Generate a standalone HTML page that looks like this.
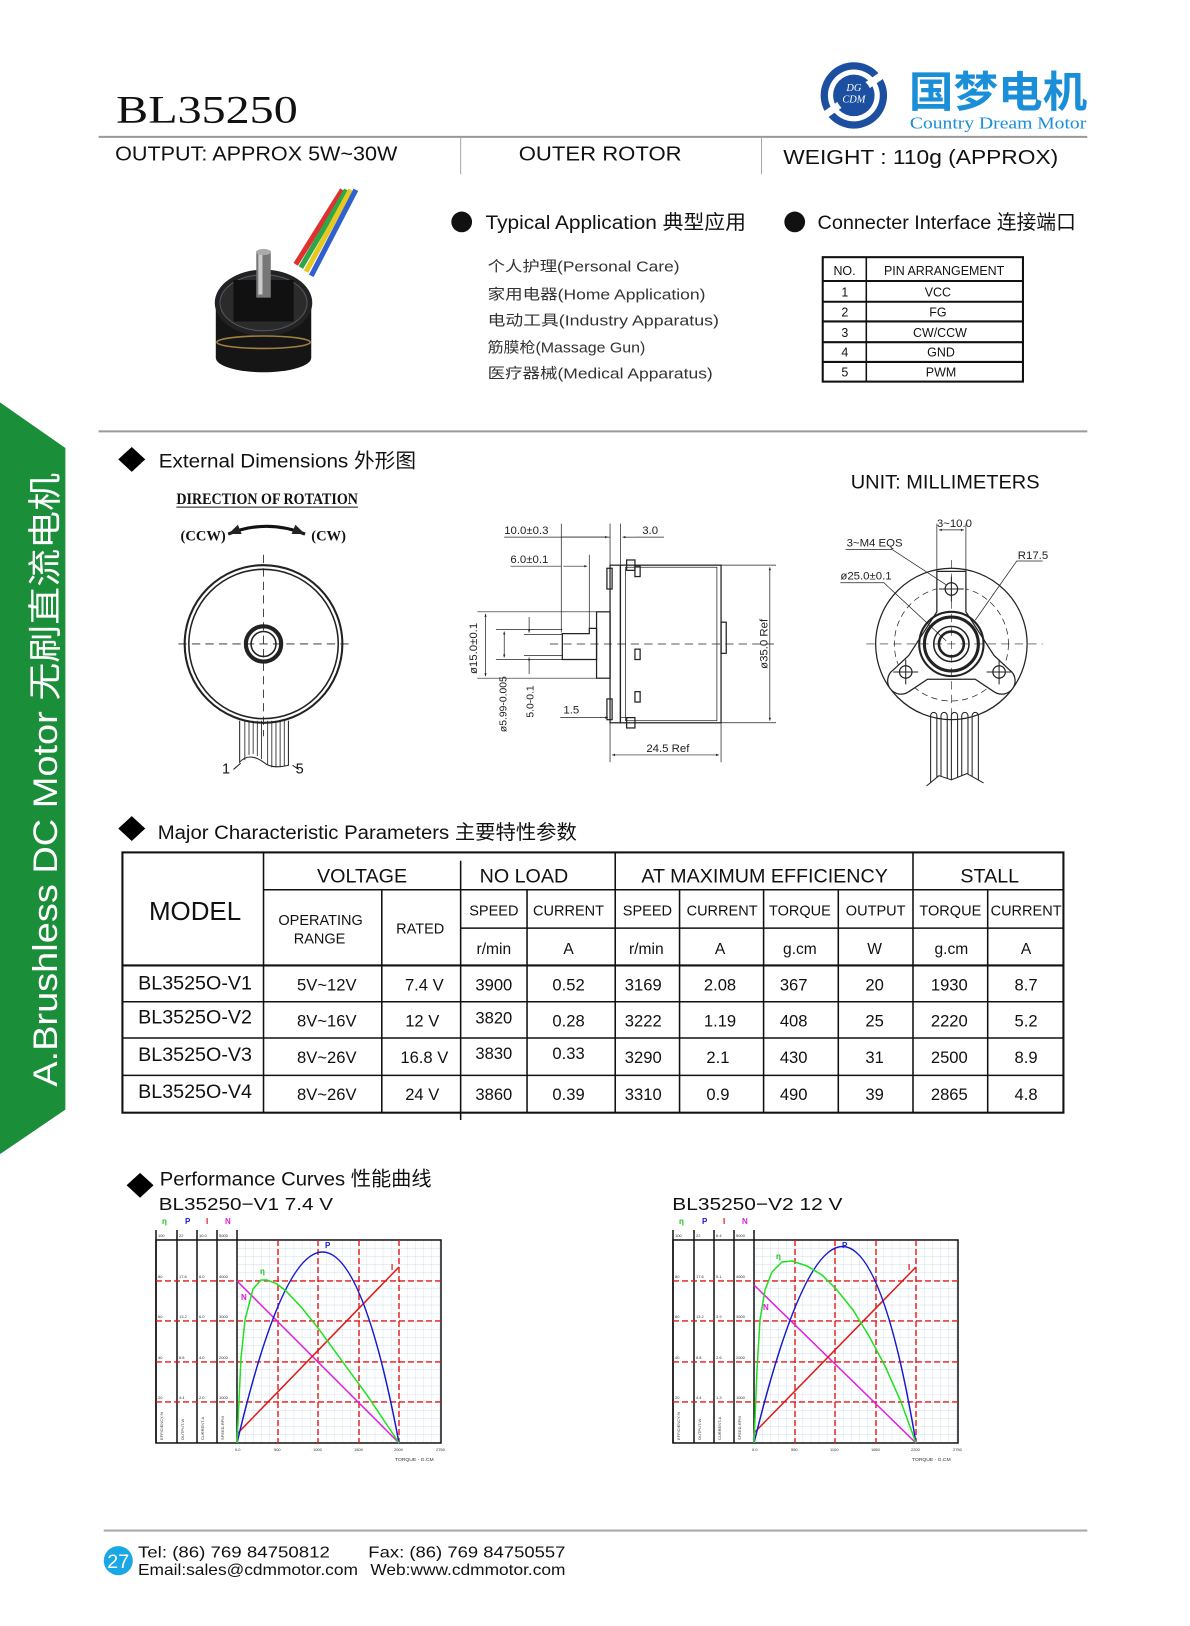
<!DOCTYPE html>
<html><head><meta charset="utf-8">
<style>
html,body{margin:0;padding:0;background:#fff;}
svg{display:block;}
text{font-family:"Liberation Sans","Noto Sans CJK SC",sans-serif;}
.s{font-family:"Liberation Serif","Noto Serif CJK SC",serif;}
.m{font-family:"Liberation Mono","Noto Serif CJK SC",monospace;}
.n{font-family:"Liberation Sans Narrow","Liberation Sans","Noto Sans CJK SC",sans-serif;}
</style></head><body>
<svg width="1190" height="1626" viewBox="0 0 1147 1568" preserveAspectRatio="none" xmlns="http://www.w3.org/2000/svg">
<defs>
<pattern id="mg" width="8.1" height="8.1" patternUnits="userSpaceOnUse" x="237" y="1240">
<path d="M0 0H8.1M0 0V8.1" stroke="#b8d4e0" stroke-width="0.6" fill="none"/>
</pattern>
<marker id="ar" viewBox="0 0 10 10" refX="10" refY="5" markerWidth="6" markerHeight="4" orient="auto-start-reverse"><path d="M0 1L10 5L0 9z" fill="#222"/></marker>
</defs>

<polygon points="0,388 63,432 63,1070 0,1113" fill="#1b8e3a"/>
<text transform="translate(55,1048) rotate(-90)" font-size="33" fill="#fff" textLength="592" lengthAdjust="spacingAndGlyphs">A.Brushless DC Motor  无刷直流电机</text>

<text x="112" y="118" class="s" font-size="38" fill="#111" textLength="175" lengthAdjust="spacingAndGlyphs">BL35250</text>
<g>
<circle cx="823" cy="92" r="32" fill="#1d4fa0"/>
<circle cx="823" cy="92" r="25" fill="#fff"/>
<circle cx="823" cy="92" r="20" fill="#1d4fa0"/>
<rect x="790" y="88" width="66" height="7" fill="#fff" transform="rotate(-35 823 92)"/>
<circle cx="823" cy="92" r="17" fill="#1d4fa0"/>
<text x="823" y="88" font-size="10" fill="#fff" text-anchor="middle" class="s" font-style="italic">DG</text>
<text x="823" y="99" font-size="10" fill="#fff" text-anchor="middle" class="s" font-style="italic">CDM</text>
</g>
<text x="876" y="103" font-size="41" font-weight="bold" fill="#1a8fd8" textLength="172" lengthAdjust="spacingAndGlyphs" font-family="Noto Sans CJK SC,sans-serif">国梦电机</text>
<text x="877" y="124" class="s" font-size="16" fill="#1a8fd8" textLength="170" lengthAdjust="spacingAndGlyphs">Country Dream Motor</text>

<line x1="95" y1="132" x2="1048" y2="132" stroke="#999" stroke-width="2"/>
<line x1="444" y1="133" x2="444" y2="168" stroke="#aaa" stroke-width="1"/>
<line x1="734" y1="133" x2="734" y2="168" stroke="#aaa" stroke-width="1"/>
<text x="111" y="155" class="n" font-size="20" fill="#111" textLength="272" lengthAdjust="spacingAndGlyphs">OUTPUT: APPROX  5W~30W</text>
<text x="500" y="155" class="n" font-size="20" fill="#111" textLength="157" lengthAdjust="spacingAndGlyphs">OUTER   ROTOR</text>
<text x="755" y="158" class="n" font-size="20" fill="#111" textLength="265" lengthAdjust="spacingAndGlyphs">WEIGHT :  110g (APPROX)</text>

<g>
<path d="M285 255 L330 183" stroke="#e03030" stroke-width="5" fill="none"/>
<path d="M290 258 L334 183" stroke="#2aa84a" stroke-width="5" fill="none"/>
<path d="M295 262 L338 183" stroke="#e8c820" stroke-width="5" fill="none"/>
<path d="M300 266 L343 183" stroke="#3060d0" stroke-width="5" fill="none"/>
<path d="M208 298 L208 345 A46 14 0 0 0 300 345 L300 298 Z" fill="#151515"/>
<ellipse cx="254" cy="292" rx="47" ry="32" fill="#222"/>
<ellipse cx="254" cy="292" rx="42" ry="27" fill="#2b2b2b" stroke="#556" stroke-width="1"/>
<rect x="225" y="270" width="58" height="40" fill="#111"/>
<ellipse cx="254" cy="330" rx="45" ry="6" fill="none" stroke="#a08040" stroke-width="1.5"/>
<rect x="247" y="242" width="14" height="45" fill="#777"/>
<rect x="249" y="244" width="4" height="40" fill="#ccc"/>
<ellipse cx="254" cy="243" rx="7" ry="3" fill="#aaa"/>
</g>

<circle cx="445" cy="214" r="10" fill="#111"/>
<text x="468" y="221" font-size="19" fill="#111" textLength="251" lengthAdjust="spacingAndGlyphs">Typical  Application  典型应用</text>
<circle cx="766" cy="214" r="10" fill="#111"/>
<text x="788" y="221" font-size="19" fill="#111" textLength="249" lengthAdjust="spacingAndGlyphs">Connecter Interface 连接端口</text>
<g class="m" font-size="14" fill="#333">
<text x="470" y="262" textLength="185" lengthAdjust="spacingAndGlyphs">个人护理(Personal Care)</text>
<text x="470" y="289" textLength="210" lengthAdjust="spacingAndGlyphs">家用电器(Home Application)</text>
<text x="470" y="314" textLength="223" lengthAdjust="spacingAndGlyphs">电动工具(Industry Apparatus)</text>
<text x="470" y="340" textLength="152" lengthAdjust="spacingAndGlyphs">筋膜枪(Massage Gun)</text>
<text x="470" y="365" textLength="217" lengthAdjust="spacingAndGlyphs">医疗器械(Medical Apparatus)</text>
</g>
<g stroke="#111" fill="none">
<rect x="793" y="248" width="193" height="120" stroke-width="2"/>
<line x1="835" y1="248" x2="835" y2="368" stroke-width="1.5"/>
<line x1="793" y1="271" x2="986" y2="271" stroke-width="2"/>
<line x1="793" y1="291" x2="986" y2="291" stroke-width="2"/>
<line x1="793" y1="310" x2="986" y2="310" stroke-width="2"/>
<line x1="793" y1="330" x2="986" y2="330" stroke-width="2"/>
<line x1="793" y1="349" x2="986" y2="349" stroke-width="2"/>
</g>
<g font-size="12" fill="#111">
<text x="814" y="265" text-anchor="middle">NO.</text>
<text x="910" y="265" text-anchor="middle">PIN  ARRANGEMENT</text>
<text x="811" y="286">1</text><text x="904" y="286" text-anchor="middle">VCC</text>
<text x="811" y="305">2</text><text x="904" y="305" text-anchor="middle">FG</text>
<text x="811" y="325">3</text><text x="906" y="325" text-anchor="middle">CW/CCW</text>
<text x="811" y="344">4</text><text x="907" y="344" text-anchor="middle">GND</text>
<text x="811" y="363">5</text><text x="907" y="363" text-anchor="middle">PWM</text>
</g>

<line x1="95" y1="416" x2="1048" y2="416" stroke="#999" stroke-width="2"/>

<polygon points="127,431 140,443 127,455 114,443" fill="#000"/>
<text x="153" y="451" font-size="19" fill="#111" textLength="248" lengthAdjust="spacingAndGlyphs">External  Dimensions  外形图</text>
<text x="170" y="486" class="s" font-size="15" font-weight="bold" fill="#111" textLength="175" lengthAdjust="spacingAndGlyphs">DIRECTION  OF  ROTATION</text>
<line x1="170" y1="489" x2="345" y2="489" stroke="#111" stroke-width="1"/>
<text x="174" y="521" class="s" font-size="14" font-weight="bold" fill="#111">(CCW)</text>
<text x="300" y="521" class="s" font-size="14" font-weight="bold" fill="#111">(CW)</text>
<path d="M220 515 Q257 500 294 515" stroke="#111" stroke-width="3" fill="none" marker-start="url(#ar)" marker-end="url(#ar)"/>

<g stroke="#222" fill="none">
<circle cx="254" cy="621" r="76" stroke-width="2"/>
<circle cx="254" cy="621" r="72" stroke-width="1.5"/>
<circle cx="254" cy="621" r="17" stroke-width="4"/>
<circle cx="254" cy="621" r="12" stroke-width="1.5"/>
<line x1="254" y1="535" x2="254" y2="710" stroke-dasharray="8 5" stroke-width="0.8"/>
<line x1="172" y1="621" x2="340" y2="621" stroke-dasharray="8 5" stroke-width="0.8"/>
<path d="M231 695 V735 Q240 725 254 735 Q262 742 278 738 V695" stroke-width="1"/>
<path d="M236 695V733M240 695V728M244 695V727M248 695V729M252 695V732M258 695V738M262 695V740M266 695V740M270 695V740M274 695V739" stroke-width="0.8"/>
<path d="M225 742 L232 736 M282 738 L288 742" stroke-width="1"/>
</g>
<text x="214" y="746" font-size="14" fill="#111">1</text>
<text x="285" y="746" font-size="14" fill="#111">5</text>

<g stroke="#222" fill="none" stroke-width="1.2">
<rect x="598" y="545" width="97" height="152"/>
<rect x="603" y="547" width="88" height="148" stroke-width="0.7"/>
<rect x="695" y="600" width="5" height="30"/>
<rect x="588" y="545" width="10" height="152"/>
<rect x="585" y="548" width="5" height="20"/><rect x="585" y="674" width="5" height="20"/>
<rect x="604" y="540" width="8" height="10"/><rect x="604" y="692" width="8" height="10"/>
<rect x="612" y="546" width="5" height="10"/><rect x="612" y="626" width="5" height="10"/><rect x="612" y="667" width="5" height="10"/>
<rect x="575" y="590" width="13" height="64"/>
<path d="M542 611 H568 V606 H575 V636 H542 Z"/>
<line x1="530" y1="621" x2="750" y2="621" stroke-dasharray="8 5" stroke-width="0.7"/>
<g stroke-width="0.7">
<line x1="541" y1="505" x2="541" y2="610"/>
<line x1="588" y1="505" x2="588" y2="545"/>
<line x1="598" y1="505" x2="598" y2="545"/>
<line x1="486" y1="518" x2="588" y2="518"/>
<line x1="541" y1="518" x2="586" y2="518" marker-end="url(#ar)"/>
<line x1="612" y1="518" x2="600" y2="518" marker-end="url(#ar)"/>
<line x1="612" y1="518" x2="640" y2="518"/>
<line x1="492" y1="546" x2="541" y2="546"/>
<line x1="543" y1="546" x2="566" y2="546" marker-end="url(#ar)"/>
<line x1="568" y1="535" x2="568" y2="606"/>
<line x1="460" y1="590" x2="575" y2="590"/>
<line x1="460" y1="654" x2="575" y2="654"/>
<line x1="468" y1="592" x2="468" y2="652" marker-start="url(#ar)" marker-end="url(#ar)"/>
<line x1="478" y1="607" x2="542" y2="607"/><line x1="478" y1="636" x2="542" y2="636"/>
<line x1="486" y1="609" x2="486" y2="634" marker-start="url(#ar)" marker-end="url(#ar)"/>
<line x1="505" y1="612" x2="542" y2="612"/><line x1="505" y1="632" x2="542" y2="632"/>
<line x1="510" y1="595" x2="510" y2="610" marker-end="url(#ar)"/><line x1="510" y1="650" x2="510" y2="634" marker-end="url(#ar)"/>
<line x1="540" y1="692" x2="586" y2="692" marker-end="url(#ar)"/>
<line x1="598" y1="692" x2="612" y2="692" />
<line x1="588" y1="697" x2="588" y2="735"/><line x1="695" y1="697" x2="695" y2="735"/>
<line x1="590" y1="728" x2="693" y2="728" marker-start="url(#ar)" marker-end="url(#ar)"/>
<line x1="695" y1="545" x2="748" y2="545"/><line x1="695" y1="697" x2="748" y2="697"/>
<line x1="742" y1="547" x2="742" y2="695" marker-start="url(#ar)" marker-end="url(#ar)"/>
</g>
</g>
<g class="s" font-size="11" fill="#222">
<text x="486" y="515">10.0±0.3</text>
<text x="492" y="543">6.0±0.1</text>
<text x="619" y="515">3.0</text>
<text x="543" y="688">1.5</text>
<text x="623" y="725">24.5  Ref</text>
<text transform="translate(460,650) rotate(-90)">ø15.0±0.1</text>
<text transform="translate(488,706) rotate(-90)" font-size="10">ø5.99-0.005</text>
<text transform="translate(514,692) rotate(-90)" font-size="10">5.0-0.1</text>
<text transform="translate(740,645) rotate(-90)">ø35.0  Ref</text>
</g>

<text x="820" y="471" class="n" font-size="19" fill="#111" textLength="182" lengthAdjust="spacingAndGlyphs">UNIT: MILLIMETERS</text>
<g stroke="#222" fill="none" stroke-width="1.2">
<circle cx="917" cy="621" r="73"/>
<circle cx="917" cy="621" r="55" stroke-dasharray="6 4" stroke-width="0.7"/>
<path d="M903 551 H931 L931 590 L958 632 L973 646 A12 12 0 0 1 958 667 L940 655 L894 655 L876 667 A12 12 0 0 1 861 646 L876 632 L903 590 Z" fill="#fff"/>
<circle cx="917" cy="621" r="31" stroke-width="2"/>
<circle cx="917" cy="621" r="26" stroke-width="3"/>
<circle cx="917" cy="621" r="17" stroke-width="1.5"/>
<circle cx="917" cy="621" r="12" stroke-width="2.5"/>
<circle cx="917" cy="568" r="6"/><circle cx="873" cy="648" r="6"/><circle cx="963" cy="648" r="6"/>
<path d="M905 568H929M917 556V580M861 648H885M873 636V660M951 648H975M963 636V660" stroke-width="1"/>
<line x1="835" y1="621" x2="1005" y2="621" stroke-dasharray="8 5" stroke-width="0.6"/>
<line x1="917" y1="540" x2="917" y2="700" stroke-dasharray="8 5" stroke-width="0.6"/>
<path d="M897 755 V690 a3 3 0 0 1 6 0 V755 M907 755 V690 a3 3 0 0 1 6 0 V755 M917 755 V690 a3 3 0 0 1 6 0 V755 M927 755 V690 a3 3 0 0 1 6 0 V755 M937 755 V690 a3 3 0 0 1 6 0 V755" stroke-width="1"/>
<path d="M893 758 L905 748 L917 752 L932 746 L948 755" stroke-width="1" fill="#fff"/>
<g stroke-width="0.7">
<line x1="903" y1="505" x2="903" y2="551"/><line x1="931" y1="505" x2="931" y2="551"/>
<line x1="905" y1="511" x2="929" y2="511" marker-start="url(#ar)" marker-end="url(#ar)"/>
<polyline points="815,530 860,530 912,564"/>
<polyline points="810,562 852,562 912,618"/>
<polyline points="1005,541 980,541 940,598"/>
</g>
</g>
<g class="s" font-size="11" fill="#222">
<text x="903" y="508">3~10.0</text>
<text x="816" y="527">3~M4 EQS</text>
<text x="981" y="539">R17.5</text>
<text x="810" y="559">ø25.0±0.1</text>
</g>

<polygon points="127,787 140,799 127,811 114,799" fill="#000"/>
<text x="152" y="809" font-size="19" fill="#111" textLength="404" lengthAdjust="spacingAndGlyphs">Major  Characteristic Parameters  主要特性参数</text>
<g stroke="#111" fill="none">
<rect x="118" y="822" width="907" height="251" stroke-width="2"/>
<line x1="254" y1="858" x2="1025" y2="858" stroke-width="1.5"/>
<line x1="444" y1="895" x2="1025" y2="895" stroke-width="1.5"/>
<line x1="118" y1="931" x2="1025" y2="931" stroke-width="2"/>
<line x1="118" y1="966" x2="1025" y2="966" stroke-width="1.5"/>
<line x1="118" y1="1001" x2="1025" y2="1001" stroke-width="1.5"/>
<line x1="118" y1="1037" x2="1025" y2="1037" stroke-width="1.5"/>
<line x1="254" y1="822" x2="254" y2="1073" stroke-width="1.5"/>
<line x1="368" y1="858" x2="368" y2="1073" stroke-width="1.5"/>
<line x1="444" y1="830" x2="444" y2="1080" stroke-width="1.5"/>
<line x1="508" y1="858" x2="508" y2="1073" stroke-width="1.5"/>
<line x1="593" y1="822" x2="593" y2="1073" stroke-width="1.5"/>
<line x1="655" y1="858" x2="655" y2="1073" stroke-width="1.5"/>
<line x1="736" y1="858" x2="736" y2="1073" stroke-width="1.5"/>
<line x1="808" y1="858" x2="808" y2="1073" stroke-width="1.5"/>
<line x1="880" y1="822" x2="880" y2="1073" stroke-width="1.5"/>
<line x1="952" y1="858" x2="952" y2="1073" stroke-width="1.5"/>
</g>
<g font-size="19" fill="#111" text-anchor="middle">
<text x="349" y="851">VOLTAGE</text>
<text x="505" y="851">NO  LOAD</text>
<text x="737" y="851">AT  MAXIMUM  EFFICIENCY</text>
<text x="954" y="851">STALL</text>
<text x="188" y="887" font-size="25">MODEL</text>
</g>
<g font-size="14" fill="#111" text-anchor="middle">
<text x="309" y="892">OPERATING</text><text x="308" y="910">RANGE</text>
<text x="405" y="900">RATED</text>
<text x="476" y="883">SPEED</text><text x="548" y="883">CURRENT</text>
<text x="624" y="883">SPEED</text><text x="696" y="883">CURRENT</text>
<text x="771" y="883">TORQUE</text><text x="844" y="883">OUTPUT</text>
<text x="916" y="883">TORQUE</text><text x="989" y="883">CURRENT</text>
</g>
<g font-size="15" fill="#111" text-anchor="middle">
<text x="476" y="920">r/min</text><text x="548" y="920">A</text>
<text x="623" y="920">r/min</text><text x="694" y="920">A</text>
<text x="771" y="920">g.cm</text><text x="843" y="920">W</text>
<text x="917" y="920">g.cm</text><text x="989" y="920">A</text>
</g>
<g font-size="16" fill="#111" text-anchor="middle">
<text x="188" y="954" font-size="19">BL3525O-V1</text><text x="315" y="955">5V~12V</text><text x="409" y="955">7.4 V</text><text x="476" y="955">3900</text><text x="548" y="955">0.52</text><text x="620" y="955">3169</text><text x="694" y="955">2.08</text><text x="765" y="955">367</text><text x="843" y="955">20</text><text x="915" y="955">1930</text><text x="989" y="955">8.7</text>
<text x="188" y="987" font-size="19">BL3525O-V2</text><text x="315" y="990">8V~16V</text><text x="407" y="990">12 V</text><text x="476" y="987">3820</text><text x="548" y="990">0.28</text><text x="620" y="990">3222</text><text x="694" y="990">1.19</text><text x="765" y="990">408</text><text x="843" y="990">25</text><text x="915" y="990">2220</text><text x="989" y="990">5.2</text>
<text x="188" y="1023" font-size="19">BL3525O-V3</text><text x="315" y="1025">8V~26V</text><text x="409" y="1025">16.8 V</text><text x="476" y="1021">3830</text><text x="548" y="1021">0.33</text><text x="620" y="1025">3290</text><text x="692" y="1025">2.1</text><text x="765" y="1025">430</text><text x="843" y="1025">31</text><text x="915" y="1025">2500</text><text x="989" y="1025">8.9</text>
<text x="188" y="1059" font-size="19">BL3525O-V4</text><text x="315" y="1061">8V~26V</text><text x="407" y="1061">24 V</text><text x="476" y="1061">3860</text><text x="548" y="1061">0.39</text><text x="620" y="1061">3310</text><text x="692" y="1061">0.9</text><text x="765" y="1061">490</text><text x="843" y="1061">39</text><text x="915" y="1061">2865</text><text x="989" y="1061">4.8</text>
</g>

<polygon points="135,1131 148,1143 135,1155 122,1143" fill="#000"/>
<text x="154" y="1143" font-size="19" fill="#111" textLength="262" lengthAdjust="spacingAndGlyphs">Performance Curves  性能曲线</text>
<text x="153" y="1167" font-size="17" fill="#111" textLength="168" lengthAdjust="spacingAndGlyphs">BL35250−V1  7.4  V</text>
<text x="648" y="1167" font-size="17" fill="#111" textLength="164" lengthAdjust="spacingAndGlyphs">BL35250−V2  12  V</text>

<g transform="scale(0.96387,0.96432)">
 <g>
  <rect x="237" y="1240" width="204" height="203" fill="url(#mg)"/>
  <g stroke="#111" stroke-width="1.5" fill="none">
   <rect x="156" y="1240" width="285" height="203"/>
   <line x1="156" y1="1230" x2="156" y2="1443"/><line x1="177" y1="1230" x2="177" y2="1443"/>
   <line x1="197" y1="1230" x2="197" y2="1443"/><line x1="217" y1="1230" x2="217" y2="1443"/>
   <line x1="237" y1="1230" x2="237" y2="1443"/>
  </g>
  <g stroke="#e01818" stroke-width="1.4" stroke-dasharray="6 3">
   <line x1="156" y1="1281" x2="441" y2="1281"/><line x1="156" y1="1321" x2="441" y2="1321"/>
   <line x1="156" y1="1362" x2="441" y2="1362"/><line x1="156" y1="1402" x2="441" y2="1402"/>
   <line x1="278" y1="1240" x2="278" y2="1443"/><line x1="318" y1="1240" x2="318" y2="1443"/>
   <line x1="359" y1="1240" x2="359" y2="1443"/><line x1="399" y1="1240" x2="399" y2="1443"/>
  </g>
 </g>
 <g transform="translate(517,0)">
  <rect x="237" y="1240" width="204" height="203" fill="url(#mg)"/>
  <g stroke="#111" stroke-width="1.5" fill="none">
   <rect x="156" y="1240" width="285" height="203"/>
   <line x1="156" y1="1230" x2="156" y2="1443"/><line x1="177" y1="1230" x2="177" y2="1443"/>
   <line x1="197" y1="1230" x2="197" y2="1443"/><line x1="217" y1="1230" x2="217" y2="1443"/>
   <line x1="237" y1="1230" x2="237" y2="1443"/>
  </g>
  <g stroke="#e01818" stroke-width="1.4" stroke-dasharray="6 3">
   <line x1="156" y1="1281" x2="441" y2="1281"/><line x1="156" y1="1321" x2="441" y2="1321"/>
   <line x1="156" y1="1362" x2="441" y2="1362"/><line x1="156" y1="1402" x2="441" y2="1402"/>
   <line x1="278" y1="1240" x2="278" y2="1443"/><line x1="318" y1="1240" x2="318" y2="1443"/>
   <line x1="359" y1="1240" x2="359" y2="1443"/><line x1="399" y1="1240" x2="399" y2="1443"/>
  </g>
 </g>
 <g fill="none" stroke-width="1.5">
  <line x1="237" y1="1281" x2="399" y2="1443" stroke="#e020e0"/>
  <line x1="237" y1="1434" x2="399" y2="1267" stroke="#e01818"/>
  <path d="M237 1443 Q327 1061 399 1443" stroke="#1818d0"/>
  <polyline stroke="#20e020" points="237,1443 241,1358 245,1320 253,1289 261,1280 267,1280 277,1284 286,1291 302,1308 318,1328 334,1350 350,1372 367,1395 383,1419 399,1443"/>
 </g>
 <g fill="none" stroke-width="1.5" transform="translate(517,0)">
  <line x1="237" y1="1285" x2="399" y2="1443" stroke="#e020e0"/>
  <line x1="237" y1="1433" x2="399" y2="1267" stroke="#e01818"/>
  <path d="M237 1443 Q333 1050 399 1443" stroke="#1818d0"/>
  <polyline stroke="#20e020" points="237,1443 240,1370 243,1320 248,1290 255,1272 265,1262 275,1261 290,1266 305,1275 320,1290 336,1310 352,1336 368,1366 384,1402 399,1443"/>
 </g>
 <g font-size="8" font-weight="bold">
  <text x="260" y="1274" fill="#20c020">η</text><text x="325" y="1248" fill="#1818d0">P</text>
  <text x="241" y="1300" fill="#e020e0">N</text><text x="391" y="1270" fill="#e01818">I</text>
  <text x="776" y="1259" fill="#20c020">η</text><text x="842" y="1248" fill="#1818d0">P</text>
  <text x="763" y="1310" fill="#e020e0">N</text><text x="908" y="1270" fill="#e01818">I</text>
  <text x="162" y="1224" fill="#20c020">η</text><text x="185" y="1224" fill="#1818d0">P</text><text x="206" y="1224" fill="#e01818">I</text><text x="225" y="1224" fill="#e020e0">N</text>
  <text x="679" y="1224" fill="#20c020">η</text><text x="702" y="1224" fill="#1818d0">P</text><text x="723" y="1224" fill="#e01818">I</text><text x="742" y="1224" fill="#e020e0">N</text>
 </g>
 <g font-size="4" fill="#333">
  <text x="158" y="1237">100</text><text x="179" y="1237">22</text><text x="199" y="1237">10.0</text><text x="219" y="1237">5000</text>
  <text x="158" y="1278">80</text><text x="179" y="1278">17.6</text><text x="199" y="1278">8.0</text><text x="219" y="1278">4000</text>
  <text x="158" y="1318">60</text><text x="179" y="1318">13.2</text><text x="199" y="1318">6.0</text><text x="219" y="1318">3000</text>
  <text x="158" y="1359">40</text><text x="179" y="1359">8.8</text><text x="199" y="1359">4.0</text><text x="219" y="1359">2000</text>
  <text x="158" y="1399">20</text><text x="179" y="1399">4.4</text><text x="199" y="1399">2.0</text><text x="219" y="1399">1000</text>
  <text x="235" y="1451">0.0</text><text x="274" y="1451">500</text><text x="313" y="1451">1000</text><text x="354" y="1451">1500</text><text x="394" y="1451">2000</text><text x="436" y="1451">2750</text>
  <text x="395" y="1461" font-size="5">TORQUE - G.CM</text>
  <text x="675" y="1237">100</text><text x="696" y="1237">22</text><text x="716" y="1237">6.4</text><text x="736" y="1237">5000</text>
  <text x="675" y="1278">80</text><text x="696" y="1278">17.6</text><text x="716" y="1278">5.1</text><text x="736" y="1278">4000</text>
  <text x="675" y="1318">60</text><text x="696" y="1318">13.2</text><text x="716" y="1318">3.9</text><text x="736" y="1318">3000</text>
  <text x="675" y="1359">40</text><text x="696" y="1359">8.8</text><text x="716" y="1359">2.6</text><text x="736" y="1359">2000</text>
  <text x="675" y="1399">20</text><text x="696" y="1399">4.4</text><text x="716" y="1399">1.3</text><text x="736" y="1399">1000</text>
  <text x="752" y="1451">0.0</text><text x="791" y="1451">550</text><text x="830" y="1451">1100</text><text x="871" y="1451">1650</text><text x="911" y="1451">2200</text><text x="953" y="1451">2750</text>
  <text x="912" y="1461" font-size="5">TORQUE - G.CM</text>
  <text transform="translate(163,1440) rotate(-90)">EFFICIENCY-%</text><text transform="translate(184,1440) rotate(-90)">OUTPUT-W</text>
  <text transform="translate(204,1440) rotate(-90)">CURRENT-A</text><text transform="translate(224,1440) rotate(-90)">SPEED-RPM</text>
  <text transform="translate(680,1440) rotate(-90)">EFFICIENCY-%</text><text transform="translate(701,1440) rotate(-90)">OUTPUT-W</text>
  <text transform="translate(721,1440) rotate(-90)">CURRENT-A</text><text transform="translate(741,1440) rotate(-90)">SPEED-RPM</text>
 </g>
</g>

<line x1="100" y1="1476" x2="1048" y2="1476" stroke="#aaa" stroke-width="2"/>
<circle cx="114" cy="1505" r="14" fill="#19a7e6"/>
<text x="114" y="1512" font-size="19" fill="#fff" text-anchor="middle">27</text>
<text x="133" y="1502" font-size="15" fill="#111" textLength="185" lengthAdjust="spacingAndGlyphs">Tel:  (86)  769  84750812</text>
<text x="355" y="1502" font-size="15" fill="#111" textLength="190" lengthAdjust="spacingAndGlyphs">Fax:  (86)  769  84750557</text>
<text x="133" y="1519" font-size="15" fill="#111" textLength="212" lengthAdjust="spacingAndGlyphs">Email:sales@cdmmotor.com</text>
<text x="357" y="1519" font-size="15" fill="#111" textLength="188" lengthAdjust="spacingAndGlyphs">Web:www.cdmmotor.com</text>
</svg>
</body></html>
